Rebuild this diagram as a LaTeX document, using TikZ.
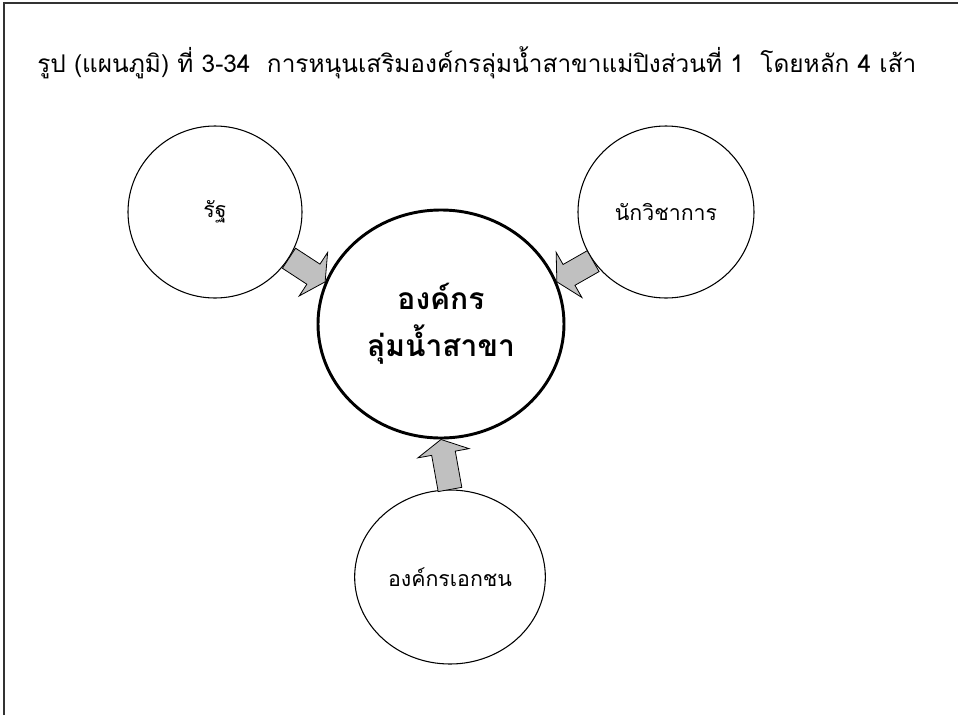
\documentclass[tikz,border=0pt]{standalone}
\usepackage{fontspec}
\newfontfamily\thaifont[Script=Thai]{Loma}
\usepackage{xcolor}
\usetikzlibrary{shapes.geometric,calc}
\definecolor{arrowgray}{RGB}{192,192,192}

\tikzset{
  circ/.style={draw, ellipse, inner sep=0pt, line width=0.8pt, align=center},
  blockarrow/.style={draw, fill=arrowgray, line width=0.6pt, line join=miter,
    to path={($(\tikztostart)!9pt!90:(\tikztotarget)$)
      -- ($(\tikztotarget)!10.5pt!(\tikztostart)!9pt!90:(\tikztotarget)$)
      -- ($(\tikztotarget)!10.5pt!(\tikztostart)!19.5pt!90:(\tikztotarget)$)
      -- (\tikztotarget)
      -- ($(\tikztotarget)!10.5pt!(\tikztostart)!19.5pt!-90:(\tikztotarget)$)
      -- ($(\tikztotarget)!10.5pt!(\tikztostart)!9pt!-90:(\tikztotarget)$)
      -- ($(\tikztostart)!9pt!-90:(\tikztotarget)$) -- cycle}}
}

\begin{document}
\begin{tikzpicture}[x=0.75pt, y=-0.75pt, every node/.style={font=\thaifont\fontsize{16}{19}\selectfont}]
  \useasboundingbox (0,0) rectangle (958,715);

  % Frame
  \draw[line width=1.2pt, black!80] (4,715) -- (4,3) -- (958,3);

  % Title
  \node[anchor=west, inner sep=0pt, font=\thaifont\fontsize{18.3}{22}\selectfont] (title) at (37,63)
    {รูป (แผนภูมิ) ที่ 3-34\ \ การหนุนเสริมองค์กรลุ่มน้ำสาขาแม่ปิงส่วนที่ 1\ \ โดยหลัก 4 เส้า};

  % Circles
  \node[circ, line width=2.2pt, minimum width=184.5pt, minimum height=171pt,
        font=\thaifont\bfseries\fontsize{22.5}{35}\selectfont] (org) at (441,324)
    {องค์กร\\ลุ่มน้ำสาขา};
  \node[circ, minimum width=130.5pt, minimum height=129pt] (rat) at (215,212) {รัฐ};
  \node[circ, minimum width=132pt, minimum height=129pt] (acad) at (666,212) {นักวิชาการ};
  \node[circ, minimum width=143pt, minimum height=130.5pt] (priv) at (450,577) {องค์กรเอกชน};

  % Arrows
  \draw[blockarrow] (rat.-32) to (org.160);
  \draw[blockarrow] (acad.-146) to (org.20);
  \draw[blockarrow] (priv.90) to (org.-90);

\end{tikzpicture}
\end{document}
